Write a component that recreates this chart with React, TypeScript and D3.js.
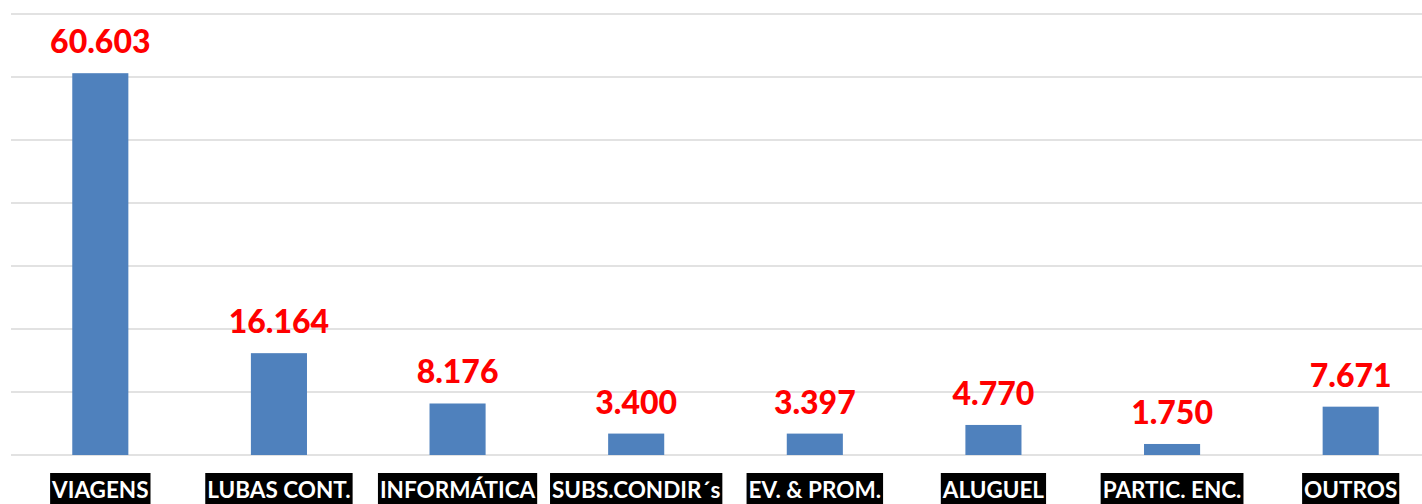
import React, { useRef, useEffect } from "react";
import * as d3 from "d3";

const categories = [
  "VIAGENS",
  "LUBAS CONT.",
  "INFORMÁTICA",
  "SUBS.CONDIR´s",
  "EV. & PROM.",
  "ALUGUEL",
  "PARTIC. ENC.",
  "OUTROS",
];
const values = [60603, 16164, 8176, 3400, 3397, 4770, 1750, 7671];
const gridTicks = [0, 10000, 20000, 30000, 40000, 50000, 60000, 70000];

const W = 1422;
const H = 504;

const fmt = (v: number) => d3.format(",")(v).replace(/,/g, ".");

const App = () => {
  const svgRef = useRef<SVGSVGElement>(null);

  useEffect(() => {
    document.body.style.margin = "0";
    const svg = d3.select(svgRef.current);
    svg.selectAll("*").remove();

    const x = d3
      .scaleBand<string>()
      .domain(categories)
      .range([11, 1440])
      .paddingInner(0.686)
      .paddingOuter(0.343);

    const y = d3.scaleLinear().domain([0, 70000]).range([455, 14]);

    // gridlines
    svg
      .append("g")
      .selectAll("line")
      .data(gridTicks)
      .enter()
      .append("line")
      .attr("x1", 11)
      .attr("x2", W)
      .attr("y1", (d) => y(d))
      .attr("y2", (d) => y(d))
      .attr("stroke", "#d9d9d9")
      .attr("stroke-width", 1.5);

    // bars
    svg
      .append("g")
      .selectAll("rect")
      .data(values)
      .enter()
      .append("rect")
      .attr("x", (d, i) => x(categories[i])!)
      .attr("y", (d) => y(d))
      .attr("width", x.bandwidth())
      .attr("height", (d) => y(0) - y(d))
      .attr("fill", "#4f81bd");

    // value labels
    svg
      .append("g")
      .selectAll("text")
      .data(values)
      .enter()
      .append("text")
      .attr("x", (d, i) => x(categories[i])! + x.bandwidth() / 2)
      .attr("y", (d) => y(d) - 20)
      .attr("text-anchor", "middle")
      .style("font-family", "Lato, sans-serif")
      .style("font-weight", "900")
      .style("font-size", "32px")
      .style("fill", "#ff0000")
      .text((d) => fmt(d));

    // category labels with black boxes
    const cat = svg.append("g");
    categories.forEach((c) => {
      const cx = x(c)! + x.bandwidth() / 2;
      const bg = cat.append("rect").attr("fill", "#000");
      const t = cat
        .append("text")
        .attr("x", cx)
        .attr("y", 498)
        .attr("text-anchor", "middle")
        .style("font-family", "Lato, sans-serif")
        .style("font-weight", "bold")
        .style("font-size", "22.5px")
        .style("fill", "#fff")
        .text(c);
      const w = (t.node() as SVGTextElement).getComputedTextLength();
      bg.attr("x", cx - w / 2 - 2)
        .attr("y", 473)
        .attr("width", w + 4)
        .attr("height", 31);
    });
  }, []);

  return <svg ref={svgRef} width={W} height={H} style={{ display: "block" }} />;
};

export default App;
